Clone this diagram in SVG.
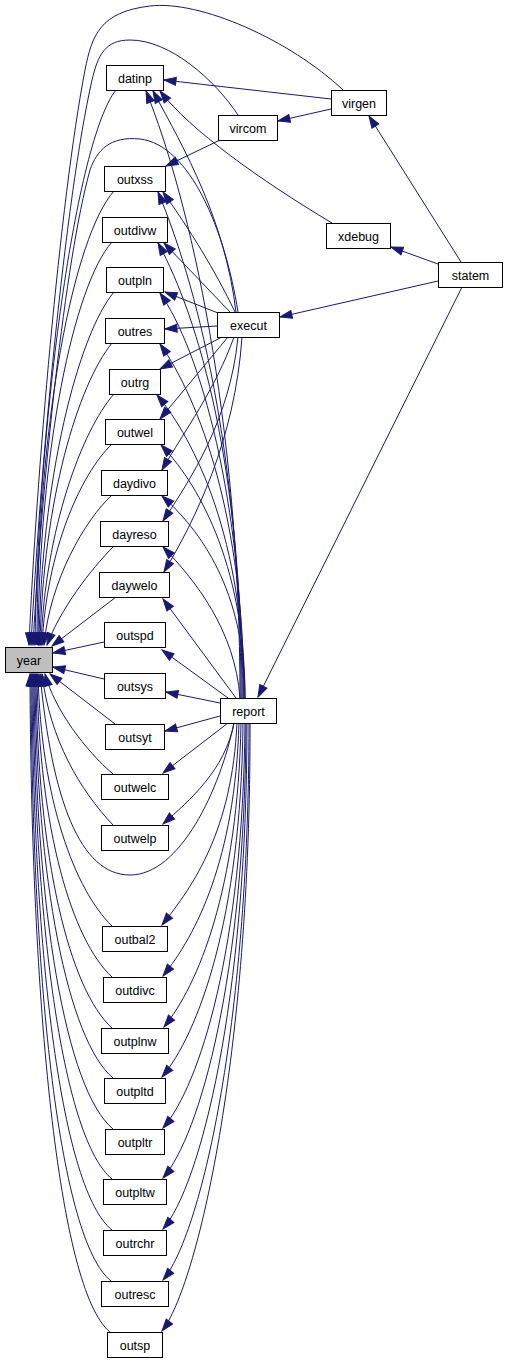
<svg xmlns="http://www.w3.org/2000/svg" width="507" height="1363" viewBox="0 0 507 1363">
<style>
.e{fill:none;stroke:#191970;stroke-width:1;marker-end:url(#a)}
.n rect{fill:#fff;stroke:#000;stroke-width:1}
.n text{font-family:"Liberation Sans",Arial,sans-serif;font-size:12.5px;text-anchor:middle;fill:#000}
#year rect{fill:#bfbfbf}
</style>
<defs>
<marker id="a" markerUnits="userSpaceOnUse" markerWidth="14" markerHeight="10" refX="12" refY="5" orient="auto" overflow="visible">
<path d="M0,1 L12,5 L0,9 z" fill="#191970" stroke="#191970" stroke-width="1"/>
</marker>
</defs>
<rect width="507" height="1363" fill="#fff"/>
<g id="edges">
<path class="e" d="M343,90 C290,40 200,0 150,6 C100,12 92,35 85,70 C60,200 36,480 29,645"/>
<path class="e" d="M238,115 C215,80 170,40 130,40 C105,40 98,55 92,80 C65,200 40,470 31,645"/>
<path class="e" d="M238,312 C225,230 190,145 140,139 C110,136 97,150 90,170 C65,260 42,480 33,645"/>
<path class="e" d="M116,90 C76,140 38,420 35,645"/>
<path class="e" d="M114,191 C74,236 37,420 37,645"/>
<path class="e" d="M112,242 C74,285 39,450 38,645"/>
<path class="e" d="M114,292 C78,335 41,480 39,645"/>
<path class="e" d="M112,343 C78,385 43,500 40,645"/>
<path class="e" d="M114,394 C82,430 45,530 41,645"/>
<path class="e" d="M112,444 C80,475 47,550 42,645"/>
<path class="e" d="M112,495 C85,520 50,580 44,645"/>
<path class="e" d="M114,546 C90,570 60,610 47,645"/>
<path class="e" d="M116,597 L52,646"/>
<path class="e" d="M104,642 L53,653"/>
<path class="e" d="M104,679 L53,667"/>
<path class="e" d="M115,724 L50,674"/>
<path class="e" d="M113,774 C85,750 55,710 45,674"/>
<path class="e" d="M113,825 C80,790 50,740 42,674"/>
<path class="e" d="M234,723 C220,790 180,875 130,875 C80,875 52,800 40,674"/>
<path class="e" d="M112,926 C75,890 41,800 38,674"/>
<path class="e" d="M112,977 C72,940 39,830 37,674"/>
<path class="e" d="M112,1028 C70,990 37,860 36,674"/>
<path class="e" d="M113,1078 C68,1040 36,880 35,674"/>
<path class="e" d="M113,1129 C66,1090 35,910 34,674"/>
<path class="e" d="M112,1179 C64,1140 34,930 33,674"/>
<path class="e" d="M112,1230 C62,1190 33,960 32,674"/>
<path class="e" d="M111,1281 C60,1240 32,990 31,674"/>
<path class="e" d="M110,1332 C58,1290 31,1000 30,674"/>
<path class="e" d="M331,99 L164,80"/>
<path class="e" d="M331,109 L278,121"/>
<path class="e" d="M220,140 L166,166"/>
<path class="e" d="M332,223 C260,180 190,130 160,91"/>
<path class="e" d="M461,262 L369,116"/>
<path class="e" d="M438,264 L391,247"/>
<path class="e" d="M438,281 L280,317"/>
<path class="e" d="M462,287 L258,697"/>
<path class="e" d="M236,312 C225,220 185,150 153,91"/>
<path class="e" d="M235,312 C215,270 190,230 163,192"/>
<path class="e" d="M230,312 L164,243"/>
<path class="e" d="M218,313 L165,292"/>
<path class="e" d="M217,326 L165,329"/>
<path class="e" d="M222,337 L160,369"/>
<path class="e" d="M228,337 L160,419"/>
<path class="e" d="M234,337 C215,390 185,430 162,470"/>
<path class="e" d="M238,337 C230,420 190,480 163,521"/>
<path class="e" d="M242,337 C235,440 195,520 164,572"/>
<path class="e" d="M240,698 C240,420 190,200 146,91"/>
<path class="e" d="M241,698 C241,450 195,280 158,192"/>
<path class="e" d="M242,698 C242,470 200,320 158,243"/>
<path class="e" d="M243,698 C243,500 200,350 160,293"/>
<path class="e" d="M244,698 C244,520 200,400 160,344"/>
<path class="e" d="M244,698 C244,540 195,440 157,395"/>
<path class="e" d="M245,698 C245,560 195,480 161,445"/>
<path class="e" d="M245,698 C245,590 200,530 162,496"/>
<path class="e" d="M240,698 C235,630 195,580 163,547"/>
<path class="e" d="M236,698 L163,599"/>
<path class="e" d="M228,698 L162,650"/>
<path class="e" d="M220,703 L166,692"/>
<path class="e" d="M220,716 L165,731"/>
<path class="e" d="M228,723 L163,773"/>
<path class="e" d="M234,723 C225,770 190,800 163,824"/>
<path class="e" d="M237,723 C232,830 194,885 162,925"/>
<path class="e" d="M239,723 C235,860 196,935 163,976"/>
<path class="e" d="M241,723 C238,890 198,985 164,1027"/>
<path class="e" d="M243,723 C241,920 198,1034 162,1077"/>
<path class="e" d="M245,723 C243,948 200,1085 163,1128"/>
<path class="e" d="M246,723 C245,975 200,1135 163,1178"/>
<path class="e" d="M247,723 C247,1003 200,1186 163,1229"/>
<path class="e" d="M249,723 C249,1030 200,1236 163,1280"/>
<path class="e" d="M250,723 C251,1057 197,1286 162,1331"/>
</g>
<g id="year" class="n"><rect x="5.5" y="647.5" width="47" height="25"/><text x="29" y="664.5">year</text></g>
<g id="datinp" class="n"><rect x="106.5" y="65.5" width="57" height="25"/><text x="135" y="82.5">datinp</text></g>
<g id="vircom" class="n"><rect x="218.5" y="115.5" width="59" height="25"/><text x="248" y="132.5">vircom</text></g>
<g id="virgen" class="n"><rect x="331.5" y="90.5" width="55" height="25"/><text x="359" y="107.5">virgen</text></g>
<g id="xdebug" class="n"><rect x="326.5" y="223.5" width="64" height="25"/><text x="358.5" y="240.5">xdebug</text></g>
<g id="statem" class="n"><rect x="438.5" y="262.5" width="64" height="25"/><text x="470.5" y="279.5">statem</text></g>
<g id="execut" class="n"><rect x="217.5" y="312.5" width="62" height="25"/><text x="248.5" y="329.5">execut</text></g>
<g id="report" class="n"><rect x="220.5" y="698.5" width="56" height="25"/><text x="248.5" y="715.5">report</text></g>
<g id="outxss" class="n"><rect x="104.5" y="166.5" width="61" height="25"/><text x="135" y="183.5">outxss</text></g>
<g id="outdivw" class="n"><rect x="102.5" y="217.5" width="65" height="25"/><text x="135" y="234.5">outdivw</text></g>
<g id="outpln" class="n"><rect x="106.5" y="267.5" width="57" height="25"/><text x="135" y="284.5">outpln</text></g>
<g id="outres" class="n"><rect x="105.5" y="318.5" width="59" height="25"/><text x="135" y="335.5">outres</text></g>
<g id="outrg" class="n"><rect x="109.5" y="369.5" width="51" height="25"/><text x="135" y="386.5">outrg</text></g>
<g id="outwel" class="n"><rect x="105.5" y="419.5" width="59" height="25"/><text x="135" y="436.5">outwel</text></g>
<g id="daydivo" class="n"><rect x="101.5" y="470.5" width="66" height="25"/><text x="134.5" y="487.5">daydivo</text></g>
<g id="dayreso" class="n"><rect x="100.5" y="521.5" width="68" height="25"/><text x="134.5" y="538.5">dayreso</text></g>
<g id="daywelo" class="n"><rect x="99.5" y="572.5" width="70" height="25"/><text x="134.5" y="589.5">daywelo</text></g>
<g id="outspd" class="n"><rect x="104.5" y="622.5" width="61" height="25"/><text x="135" y="639.5">outspd</text></g>
<g id="outsys" class="n"><rect x="104.5" y="673.5" width="61" height="25"/><text x="135" y="690.5">outsys</text></g>
<g id="outsyt" class="n"><rect x="105.5" y="724.5" width="59" height="25"/><text x="135" y="741.5">outsyt</text></g>
<g id="outwelc" class="n"><rect x="101.5" y="774.5" width="67" height="25"/><text x="135" y="791.5">outwelc</text></g>
<g id="outwelp" class="n"><rect x="101.5" y="825.5" width="67" height="25"/><text x="135" y="842.5">outwelp</text></g>
<g id="outbal2" class="n"><rect x="102.5" y="926.5" width="65" height="25"/><text x="135" y="943.5">outbal2</text></g>
<g id="outdivc" class="n"><rect x="103.5" y="977.5" width="63" height="25"/><text x="135" y="994.5">outdivc</text></g>
<g id="outplnw" class="n"><rect x="101.5" y="1028.5" width="67" height="25"/><text x="135" y="1045.5">outplnw</text></g>
<g id="outpltd" class="n"><rect x="104.5" y="1078.5" width="61" height="25"/><text x="135" y="1095.5">outpltd</text></g>
<g id="outpltr" class="n"><rect x="105.5" y="1129.5" width="59" height="25"/><text x="135" y="1146.5">outpltr</text></g>
<g id="outpltw" class="n"><rect x="103.5" y="1179.5" width="63" height="25"/><text x="135" y="1196.5">outpltw</text></g>
<g id="outrchr" class="n"><rect x="103.5" y="1230.5" width="63" height="25"/><text x="135" y="1247.5">outrchr</text></g>
<g id="outresc" class="n"><rect x="101.5" y="1281.5" width="67" height="25"/><text x="135" y="1298.5">outresc</text></g>
<g id="outsp" class="n"><rect x="107.5" y="1332.5" width="55" height="25"/><text x="135" y="1349.5">outsp</text></g>
</svg>
